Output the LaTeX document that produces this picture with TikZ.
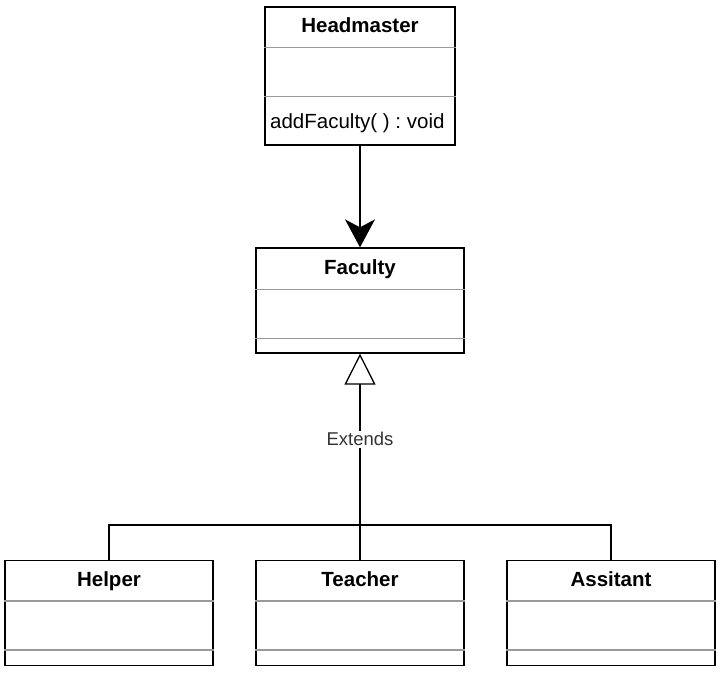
\documentclass[tikz,border=0pt]{standalone}
\usepackage{fontspec}
\setmainfont{Liberation Sans}
\usetikzlibrary{arrows.meta}
\frenchspacing

\tikzset{
        class/.style={draw, line width=1.3pt, minimum width=208pt, minimum height=105pt, inner sep=0pt},
        title/.style={font=\bfseries\fontsize{20.5}{24}\selectfont, anchor=base, inner sep=0pt},
        member/.style={font=\fontsize{20.5}{24}\selectfont, anchor=base west, inner sep=0pt},
        sep/.style={draw=black!40, line width=1.3pt},
        line/.style={line width=1.3pt},
}

\begin{document}
\begin{tikzpicture}[x=1pt, y=-1pt]
        \useasboundingbox (0, 0) rectangle (720, 675);

        \node[class, minimum width=190pt, minimum height=138pt] (hm) at (360, 76) {};
        \node[class] (fac) at (360, 300.5) {};
        \node[class] (helper) at (109, 613) {};
        \node[class] (teacher) at (360, 613) {};
        \node[class] (assitant) at (611, 613) {};

        \node[title] (hmname) at (360, 32) {Headmaster};
        \node[member] (hmop) at (270, 128) {addFaculty( ) : void};
        \node[title] (facname) at (360, 274) {Faculty};
        \node[title] (helpername) at (109, 586) {Helper};
        \node[title] (teachername) at (360, 586) {Teacher};
        \node[title] (assitantname) at (611, 586) {Assitant};

        \draw[sep] ([yshift=-41pt]hm.north west) -- ([yshift=-41pt]hm.north east);
        \draw[sep] ([yshift=-90pt]hm.north west) -- ([yshift=-90pt]hm.north east);
        \draw[sep] ([yshift=-42pt]fac.north west) -- ([yshift=-42pt]fac.north east);
        \draw[sep] ([yshift=-91pt]fac.north west) -- ([yshift=-91pt]fac.north east);
        \draw[sep] ([yshift=-41pt]helper.north west) -- ([yshift=-41pt]helper.north east);
        \draw[sep] ([yshift=-90pt]helper.north west) -- ([yshift=-90pt]helper.north east);
        \draw[sep] ([yshift=-41pt]teacher.north west) -- ([yshift=-41pt]teacher.north east);
        \draw[sep] ([yshift=-90pt]teacher.north west) -- ([yshift=-90pt]teacher.north east);
        \draw[sep] ([yshift=-41pt]assitant.north west) -- ([yshift=-41pt]assitant.north east);
        \draw[sep] ([yshift=-90pt]assitant.north west) -- ([yshift=-90pt]assitant.north east);

        \coordinate (joint) at (360, 525);

        \draw[line, -{Stealth[length=28pt, width=30pt, inset=8pt]}] (hm.south) -- (fac.north);
        \draw[line] (helper.north) |- (joint) -| (assitant.north);
        \draw[line] (teacher.north) -- (joint);
        \draw[line, -{Triangle[open, fill=white, length=31pt, width=31pt]}] (joint) -- node[fill=white, text=black!80, font=\fontsize{18.5}{22}\selectfont, inner sep=2pt] (ext) {Extends} (fac.south);
    \end{tikzpicture}
\end{document}
